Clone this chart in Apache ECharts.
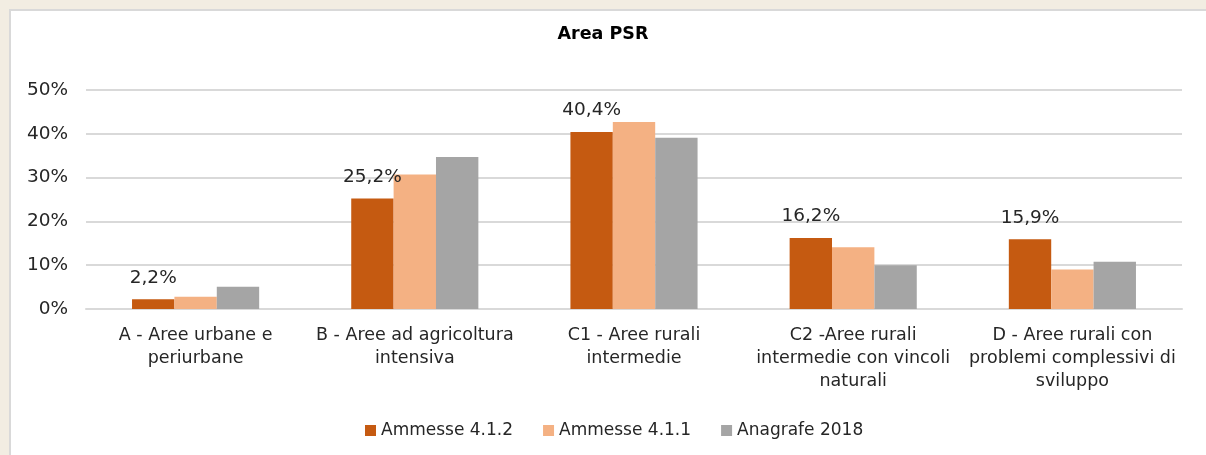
<!DOCTYPE html>
<html>
<head>
<meta charset="utf-8">
<script src="https://cdn.jsdelivr.net/npm/echarts@6/dist/echarts.min.js"></script>
<style>
  html, body { margin: 0; padding: 0; background: #f2ede2; }
  #chart { width: 1206px; height: 455px; }
</style>
</head>
<body>
<div id="chart"></div>
<script>
// categorie (aree PSR)
var categorie = [
  'A - Aree urbane e\nperiurbane',
  'B - Aree ad agricoltura\nintensiva',
  'C1 - Aree rurali\nintermedie',
  'C2 -Aree rurali\nintermedie con vincoli\nnaturali',
  'D - Aree rurali con\nproblemi complessivi di\nsviluppo'
];
var nomiSerie = ['Ammesse 4.1.2', 'Ammesse 4.1.1', 'Anagrafe 2018'];
var ammesse412 = [2.2, 25.2, 40.4, 16.2, 15.9];
var ammesse411 = [2.8, 30.7, 42.7, 14.1, 9.0];
var anagrafe2018 = [5.1, 34.7, 39.1, 10.0, 10.8];
var colori = ['#c55a11', '#f4b183', '#a5a5a5'];

var myChart = echarts.init(document.getElementById('chart'));
var font = 'DejaVu Sans';

function serie(idx, dati, etichette) {
  return {
    name: nomiSerie[idx],
    type: 'bar',
    data: dati,
    barGap: '0%',
    barCategoryGap: '42%',
    itemStyle: { color: colori[idx] },
    label: {
      show: etichette,
      position: 'top',
      distance: 12,
      fontFamily: font,
      fontSize: 18.5,
      color: '#262626',
      formatter: function (p) {
        return p.value.toFixed(1).replace('.', ',') + '%';
      }
    }
  };
}

var option = {
  backgroundColor: '#f2ede2',
  animation: false,
  graphic: [{
    type: 'rect',
    z: -10,
    shape: { x: 10, y: 10, width: 1220, height: 470 },
    style: { fill: '#ffffff', stroke: '#d9d9d9', lineWidth: 2 }
  }],
  title: {
    text: 'Area PSR',
    left: 'center',
    top: 20,
    textStyle: { fontFamily: font, fontSize: 17.5, fontWeight: 'bold', color: '#000' }
  },
  legend: {
    bottom: 11,
    left: 360,
    icon: 'rect',
    itemWidth: 11,
    itemHeight: 11,
    itemGap: 30,
    textStyle: { fontFamily: font, fontSize: 17, color: '#262626' },
    data: nomiSerie
  },
  grid: { left: 86, right: 24, top: 90, bottom: 146 },
  xAxis: {
    type: 'category',
    data: categorie,
    axisLine: { lineStyle: { color: '#d9d9d9', width: 2 } },
    axisTick: { show: false },
    axisLabel: {
      interval: 0,
      margin: 15,
      fontFamily: font,
      fontSize: 17.5,
      lineHeight: 23,
      color: '#262626'
    }
  },
  yAxis: {
    type: 'value',
    min: 0,
    max: 50,
    interval: 10,
    axisLine: { show: false },
    axisTick: { show: false },
    axisLabel: {
      formatter: '{value}%',
      margin: 18,
      fontFamily: font,
      fontSize: 18.5,
      color: '#262626'
    },
    splitLine: { lineStyle: { color: '#d9d9d9', width: 2 } }
  },
  series: [
    serie(0, ammesse412, true),
    serie(1, ammesse411, false),
    serie(2, anagrafe2018, false)
  ]
};

option && myChart.setOption(option);
</script>
</body>
</html>
